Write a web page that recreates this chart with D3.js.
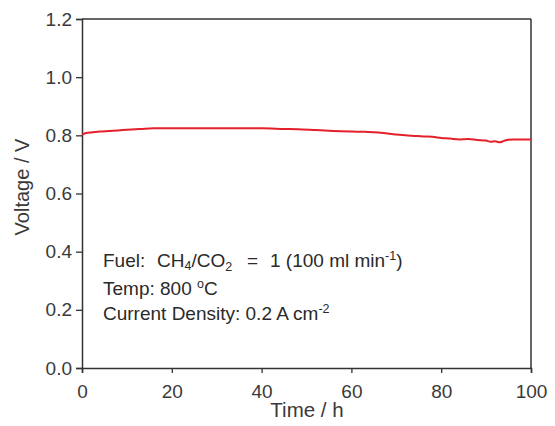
<!DOCTYPE html>
<html><head><meta charset="utf-8">
<script src="https://cdn.jsdelivr.net/npm/d3@7"></script>
<style>body{margin:0;background:#fff}svg{font-family:"Liberation Sans",Arial,sans-serif}</style>
</head><body><svg id="c" width="555" height="426"></svg>
<script>
const timeH = [0,1,2,4,6,8,10,12,14,16,20,25,30,35,40,45,48,52,56,60,63,66,68,70,72,74,76,78,80,82,84,86,88,90,91,92,93,94,95,96,98,100];
const voltage = [0.803,0.808,0.810,0.813,0.815,0.817,0.819,0.821,0.823,0.824,0.824,0.824,0.824,0.824,0.824,0.822,0.821,0.818,0.815,0.813,0.812,0.810,0.806,0.803,0.800,0.798,0.796,0.795,0.791,0.789,0.786,0.787,0.784,0.782,0.778,0.780,0.776,0.781,0.785,0.786,0.786,0.786];
const yTicks = [0,0.2,0.4,0.6,0.8,1.0,1.2];
const xTicks = [0,20,40,60,80,100];

const svg = d3.select("#c");
const L=82,R=531,T=19,B=368;
const x = d3.scaleLinear().domain([0,100]).range([L,R]);
const y = d3.scaleLinear().domain([0,1.2]).range([B,T]);
const ax = "#333";

const gx = svg.append("g").attr("transform",`translate(0,${B})`)
  .call(d3.axisBottom(x).tickValues(xTicks).tickFormat(d3.format("d")).tickSize(5).tickPadding(12));
const gy = svg.append("g").attr("transform",`translate(${L},0)`)
  .call(d3.axisLeft(y).tickValues(yTicks).tickFormat(d3.format(".1f")).tickSize(6).tickPadding(4));
[gx,gy].forEach(g=>{
  g.select(".domain").attr("stroke",ax).attr("stroke-width",1.5);
  g.selectAll(".tick line").attr("stroke",ax).attr("stroke-width",1.3);
  g.selectAll(".tick text").attr("fill","#3a3a3a").attr("font-size",19).attr("font-family","Liberation Sans, Arial, sans-serif");
});
svg.append("line").attr("x1",L).attr("x2",R).attr("y1",T).attr("y2",T).attr("stroke",ax).attr("stroke-width",1.5);
svg.append("line").attr("x1",R).attr("x2",R).attr("y1",T).attr("y2",B).attr("stroke",ax).attr("stroke-width",1.5);

const line = d3.line().x((d,i)=>x(timeH[i])).y(d=>y(d)).curve(d3.curveMonotoneX);
svg.append("path").datum(voltage).attr("d",line).attr("fill","none").attr("stroke","#e3202b").attr("stroke-width",2);

svg.append("text").attr("x",307).attr("y",417).attr("text-anchor","middle").attr("font-size",20.5).attr("fill","#3a3a3a").text("Time / h");
svg.append("text").attr("transform","translate(29,187) rotate(-90)").attr("text-anchor","middle").attr("font-size",20).attr("fill","#3a3a3a").text("Voltage / V");

const fs = 19, ss = 12.5, col = "#2a2a2a";
const g1 = svg.append("g").attr("font-size",fs).attr("fill",col);
g1.append("text").attr("x",103).attr("y",267).text("Fuel:");
const c1 = g1.append("text").attr("x",157).attr("y",267);
c1.append("tspan").text("CH");
c1.append("tspan").attr("font-size",ss).attr("dy",3).text("4");
c1.append("tspan").attr("dy",-3).text("/CO");
c1.append("tspan").attr("font-size",ss).attr("dy",4).text("2");
g1.append("text").attr("x",247).attr("y",267).text("=");
const c2 = g1.append("text").attr("x",270).attr("y",267);
c2.append("tspan").text("1 (100 ml min");
c2.append("tspan").attr("font-size",ss).attr("dy",-7).text("-1");
c2.append("tspan").attr("dy",7).text(")");
const t2 = svg.append("text").attr("x",103).attr("y",295).attr("font-size",fs).attr("fill",col);
t2.append("tspan").text("Temp: 800 ");
t2.append("tspan").attr("font-size",ss).attr("dy",-7).text("o");
t2.append("tspan").attr("dy",7).text("C");
const t3 = svg.append("text").attr("x",103).attr("y",320).attr("font-size",fs).attr("fill",col);
t3.append("tspan").text("Current Density: 0.2 A cm");
t3.append("tspan").attr("font-size",ss).attr("dy",-7).text("-2");
</script></body></html>
